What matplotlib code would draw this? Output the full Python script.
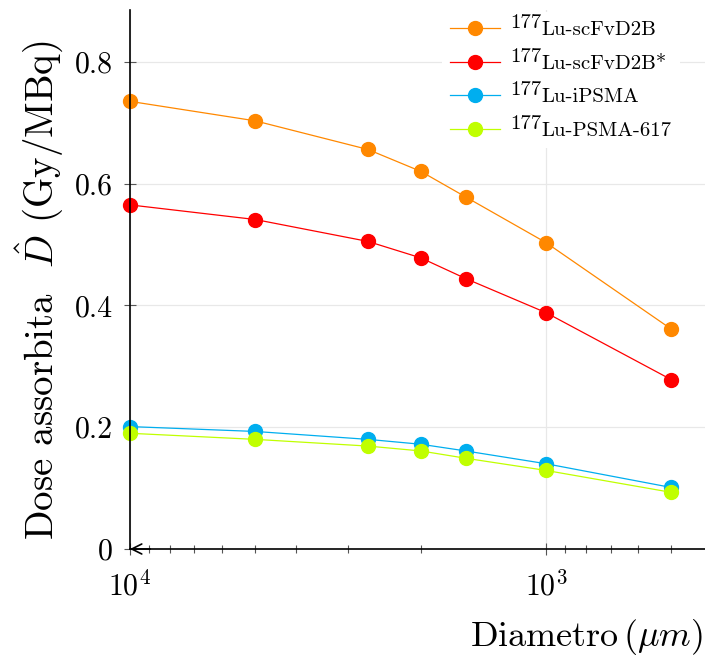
import math
import matplotlib
matplotlib.use("Agg")
from matplotlib import pyplot as plt
from matplotlib.ticker import FixedLocator, FuncFormatter, LogLocator, NullFormatter

plt.rcParams['font.family'] = 'serif'
plt.rcParams['font.serif'] = ['cmr10']
plt.rcParams['mathtext.fontset'] = 'cm'
plt.rcParams['axes.unicode_minus'] = False
plt.rcParams['axes.formatter.use_mathtext'] = True

# Diametro (um) and absorbed dose (Gy/MBq)
diametro = [10000, 5000, 2680, 2000, 1560, 1000, 500]
scfv = [0.735, 0.703, 0.656, 0.620, 0.578, 0.503, 0.361]
scfv_star = [0.565, 0.541, 0.505, 0.478, 0.444, 0.388, 0.278]
ipsma = [0.201, 0.193, 0.180, 0.172, 0.161, 0.140, 0.101]
psma617 = [0.190, 0.180, 0.169, 0.161, 0.149, 0.129, 0.093]

isotope = '177'
labels = ['Lu-scFvD2B', 'Lu-scFvD2B*', 'Lu-iPSMA', 'Lu-PSMA-617']
colors = ['#FF8800', '#FF0000', '#00AEEF', '#C0FF00']
y_ticks = [0, 0.2, 0.4, 0.6, 0.8]

fig = plt.figure(figsize=(7.05, 6.62), dpi=100)
ax = fig.add_axes([130/705, 113/662, 575/705, 539/662])

for ys, c, lab in zip([scfv, scfv_star, ipsma, psma617], colors, labels):
    ax.plot(diametro, ys, color=c, lw=0.9, marker='o', ms=10, mec=c, label=lab, clip_on=False)

ax.set_xscale('log')
ax.set_xlim(10000, 415)
ax.set_ylim(0, 0.885)

ax.yaxis.set_major_locator(FixedLocator(y_ticks))
ax.yaxis.set_major_formatter(FuncFormatter(lambda v, p: '0' if v == 0 else '%.1f' % v))
ax.xaxis.set_major_locator(FixedLocator([1e4, 1e3]))
ax.xaxis.set_major_formatter(FuncFormatter(lambda v, p: r'$10^{%d}$' % round(math.log10(v))))
ax.xaxis.set_minor_locator(LogLocator(base=10, subs=range(2, 10)))
ax.xaxis.set_minor_formatter(NullFormatter())

ax.tick_params(axis='both', which='major', labelsize=21.5, direction='inout', length=9, width=0.8, color='#555555')
ax.tick_params(axis='x', which='minor', direction='inout', length=6, width=0.8, color='#555555')
ax.tick_params(axis='x', which='major', pad=11)
ax.tick_params(axis='y', which='major', pad=8)

ax.grid(True, which='major', color='#e8e8e8', lw=0.9)
ax.set_axisbelow(True)

for s in ['top', 'right']:
    ax.spines[s].set_visible(False)
ax.spines['left'].set_linewidth(1.2)
ax.spines['bottom'].set_linewidth(1.2)

# arrow head at the left end of the x axis
ax.annotate('', xy=(-0.005, 0), xytext=(0.04, 0), xycoords='axes fraction',
            arrowprops=dict(arrowstyle='->', lw=1.2, color='black', mutation_scale=18))

leg = ax.legend(loc='upper right', bbox_to_anchor=(0.975, 1.015), fontsize=15, frameon=True,
                facecolor='white', edgecolor='none', framealpha=1, fancybox=False,
                handlelength=2.4, handletextpad=2.0, labelspacing=0.72, borderpad=0.4)

# mass number written before each label, raised like in the original
for t in leg.get_texts():
    ax.annotate(isotope, xy=(0, 0.5), xycoords=t, xytext=(-1, 7), textcoords='offset pixels',
                ha='right', va='center', fontsize=15, zorder=10)

fig.text(703 / 705, 1 - 637 / 662, r'Diametro$\,(\mu m)$', fontsize=26, ha='right', va='center')
fig.text(39 / 705, 1 - 290 / 662, r'Dose assorbita  $\hat{D}$ (Gy/MBq)', fontsize=28,
         rotation=90, ha='center', va='center')

fig.savefig('out.png', dpi=100)
